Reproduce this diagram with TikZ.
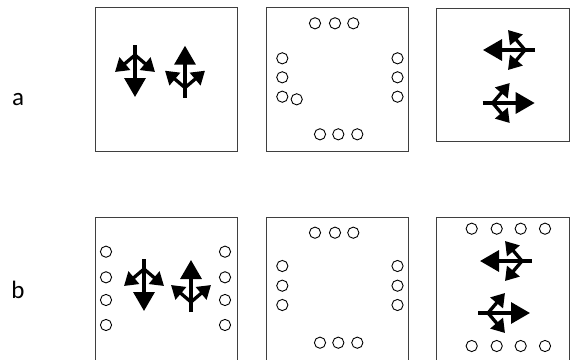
\documentclass[tikz,border=0pt]{standalone}
\usepackage{fontspec}
\setmainfont{Carlito}
\usetikzlibrary{arrows.meta}
\definecolor{panelGrey}{HTML}{3F3F3F}
\tikzset{
  panel/box/.style   = {draw=panelGrey, line width=1pt, inner sep=0pt},
  panel/dot/.style   = {draw=black, line width=0.9pt, fill=white},
  panel/label/.style = {font=\fontsize{25}{29}\selectfont, anchor=base},
  panel/stem/.style  = {line width=3.3pt, -{Triangle[length=19pt,width=21pt]}},
  panel/twig/.style  = {line width=3.3pt, -{Triangle[length=13pt,width=16pt]}},
  fork/.pic = {
    \draw[panel/stem] (0,0) -- (52,0);
    \draw[panel/twig] (10,0) -- (27,20);
    \draw[panel/twig] (10,0) -- (27,-20);
  },
}

\begin{document}
\begin{tikzpicture}[x=1pt, y=-1pt]
  \useasboundingbox (0,0) rectangle (570,359);
  \clip (0,0) rectangle (570,359);
  % --- Panel columns ---
  \def\xA {166.7}
  \def\xB {337}
  \def\xC {503}
  % --- Row labels ---
  \node[panel/label] (labA) at (18,105) {a};
  \node[panel/label] (labB) at (18,298) {b};
  % --- Row a panels ---
  \node[panel/box, minimum width=142pt,   minimum height=143.7pt] (a1) at (\xA, 79.15) {};
  \node[panel/box, minimum width=142pt,   minimum height=143.7pt] (a2) at (\xB, 79.15) {};
  \node[panel/box, minimum width=132.6pt, minimum height=133.7pt] (a3) at (\xC, 74.85) {};
  % --- Row b panels (run off the bottom edge) ---
  \node[panel/box, minimum width=142pt,   minimum height=182.7pt] (b1) at (\xA, 308.65) {};
  \node[panel/box, minimum width=142pt,   minimum height=182.7pt] (b2) at (\xB, 308.65) {};
  \node[panel/box, minimum width=132.6pt, minimum height=182.3pt] (b3) at (\xC, 308.85) {};
  % --- a1: two forks, down and up ---
  \pic[rotate=-90] at (135,45)  {fork};
  \pic[rotate=90]  at (185,97.7) {fork};
  % --- a2: ring of dots ---
  \foreach \x in {315,335,353.3} \draw[panel/dot] (\x,23.3) circle (5.6pt);
  \foreach \x in {320,338.3,357.3} \draw[panel/dot] (\x,134.3) circle (5.6pt);
  \foreach \y in {58.3,77.3,96.7} {
    \draw[panel/dot] (282.3,\y) circle (5.6pt);
    \draw[panel/dot] (397.5,\y) circle (5.6pt);
  }
  \draw[panel/dot] (296.7,99.3) circle (5.6pt); % stray dot
  % --- a3: forks left and right ---
  \pic[rotate=180] at (535,50)   {fork};
  \pic             at (482.7,103) {fork};
  % --- b1: forks between two dot columns ---
  \pic[rotate=-90] at (144,259) {fork};
  \pic[rotate=90]  at (191,312) {fork};
  \foreach \y in {251.7,277.3,300,325} {
    \draw[panel/dot] (106,\y) circle (5.6pt);
    \draw[panel/dot] (225,\y) circle (5.6pt);
  }
  % --- b2: ring of dots ---
  \foreach \x in {315,335,353.3} \draw[panel/dot] (\x,232.7) circle (5.6pt);
  \foreach \x in {320,338.3,357.3} \draw[panel/dot] (\x,342.7) circle (5.6pt);
  \foreach \y in {266,285.7,305} {
    \draw[panel/dot] (282.3,\y) circle (5.6pt);
    \draw[panel/dot] (397.5,\y) circle (5.6pt);
  }
  % --- b3: forks between two dot rows ---
  \pic[rotate=180] at (532,261) {fork};
  \pic             at (478,313) {fork};
  \foreach \x in {471.7,496.7,520.7,545} {
    \draw[panel/dot] (\x,228.7) circle (5.6pt);
    \draw[panel/dot] (\x,346) circle (5.6pt);
  }
\end{tikzpicture}
\end{document}
